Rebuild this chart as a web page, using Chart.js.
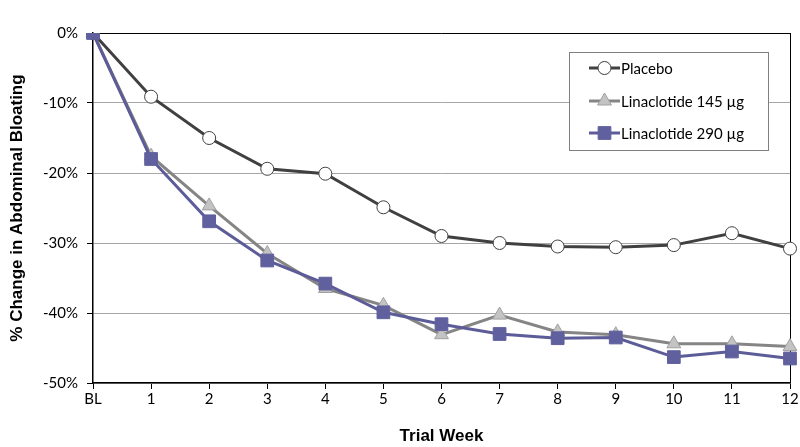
<!DOCTYPE html>
<html><head><meta charset="utf-8">
<script src="https://cdn.jsdelivr.net/npm/chart.js@4/dist/chart.umd.min.js"></script>
<style>html,body{margin:0;padding:0;background:#fff}#wrap{width:800px;height:447px}</style>
</head><body><div id="wrap"><canvas id="c" width="800" height="447"></canvas></div>
<script>
const categories = ["BL","1","2","3","4","5","6","7","8","9","10","11","12"];
const placebo = [0,-9.1,-15.0,-19.4,-20.1,-24.9,-29.0,-30.0,-30.5,-30.6,-30.3,-28.6,-30.8];
const lina145 = [0,-17.6,-24.7,-31.5,-36.5,-38.9,-43.1,-40.3,-42.7,-43.1,-44.4,-44.4,-44.8];
const lina290 = [0,-18.0,-26.9,-32.5,-35.8,-39.9,-41.6,-43.0,-43.6,-43.5,-46.3,-45.5,-46.5];
const seriesNames = ["Placebo","Linaclotide 145 µg","Linaclotide 290 µg"];
const yTicks = [0,-10,-20,-30,-40,-50];

const FONT = "Lato, 'Open Sans', sans-serif";

const legendPlugin = {
  id: 'boxLegend',
  afterDraw(chart) {
    const ctx = chart.ctx;
    const x0 = 569.5, y0 = 52.5, w = 199, h = 98;
    ctx.save();
    ctx.fillStyle = '#fff';
    ctx.fillRect(x0, y0, w, h);
    ctx.strokeStyle = '#7f7f7f';
    ctx.lineWidth = 1;
    ctx.strokeRect(x0, y0, w, h);
    const rows = [68, 101, 133];
    chart.data.datasets.forEach((ds, i) => {
      const y = rows[i];
      ctx.strokeStyle = ds.borderColor;
      ctx.lineWidth = ds.borderWidth;
      ctx.beginPath(); ctx.moveTo(589, y); ctx.lineTo(620, y); ctx.stroke();
      ctx.fillStyle = ds.pointBackgroundColor;
      ctx.strokeStyle = ds.pointBorderColor;
      ctx.lineWidth = ds.pointBorderWidth;
      Chart.helpers.drawPoint(ctx, {
        pointStyle: ds.pointStyle, radius: ds.pointRadius, borderWidth: ds.pointBorderWidth, rotation: 0
      }, 604.5, y);
      ctx.fillStyle = '#000';
      ctx.font = "15px " + FONT;
      ctx.textBaseline = 'middle';
      ctx.textAlign = 'left';
      ctx.fillText(ds.label, 621, y + 1);
    });
    ctx.restore();
  }
};

new Chart(document.getElementById('c'), {
  type: 'line',
  data: {
    labels: categories,
    datasets: [
      { label: seriesNames[0], data: placebo, borderColor: '#404040', borderWidth: 3,
        pointStyle: 'circle', pointRadius: 6.5, pointBackgroundColor: '#ffffff', pointBorderColor: '#404040', pointBorderWidth: 1, order: 2 },
      { label: seriesNames[1], data: lina145, borderColor: '#858585', borderWidth: 3,
        pointStyle: 'triangle', pointRadius: 8, pointBackgroundColor: '#c3c3c3', pointBorderColor: '#a0a0a0', pointBorderWidth: 1, order: 1 },
      { label: seriesNames[2], data: lina290, borderColor: '#5c5c98', borderWidth: 3,
        pointStyle: 'rect', pointRadius: 9, pointBackgroundColor: '#60609e', pointBorderColor: '#60609e', pointBorderWidth: 1, order: 0 }
    ]
  },
  options: {
    responsive: false,
    animation: false,
    events: [],
    layout: { padding: { top: 33, right: 8, left: 0, bottom: 0 } },
    plugins: { legend: { display: false }, tooltip: { enabled: false } },
    elements: { line: { tension: 0 } },
    scales: {
      x: {
        offset: false,
        grid: {
          drawOnChartArea: true,
          color: (c) => c.index === categories.length - 1 ? '#000' : 'rgba(0,0,0,0)',
          tickColor: '#000', tickLength: 6, lineWidth: 1
        },
        border: { color: '#000', width: 1.5 },
        ticks: { color: '#000', font: { family: FONT, size: 15 }, padding: 1, maxRotation: 0, autoSkip: false },
        title: { display: true, text: 'Trial Week', color: '#000', font: { family: "'Liberation Sans Narrow', 'Liberation Sans', Arial, sans-serif", size: 17, weight: 'bold' }, padding: { top: 7, bottom: 0 } },
        afterFit: (s) => { s.height = 64; }
      },
      y: {
        min: -50, max: 0,
        afterBuildTicks: (s) => { s.ticks = yTicks.map(v => ({ value: v })); },
        grid: {
          color: (c) => (c.tick && c.tick.value === 0) ? '#000' : '#a6a6a6',
          tickColor: '#000', tickLength: 6, lineWidth: 1
        },
        border: { color: '#000', width: 1.5 },
        ticks: { color: '#000', font: { family: FONT, size: 15 }, padding: 9, callback: (v) => v + '%' },
        title: { display: true, text: '% Change in Abdominal Bloating', color: '#000', font: { family: "'Liberation Sans', Arial, sans-serif", size: 17, weight: 'bold' }, padding: { top: 7, bottom: 0 } },
        afterFit: (s) => { s.width = 93; }
      }
    }
  },
  plugins: [legendPlugin]
});
</script>
</body></html>
